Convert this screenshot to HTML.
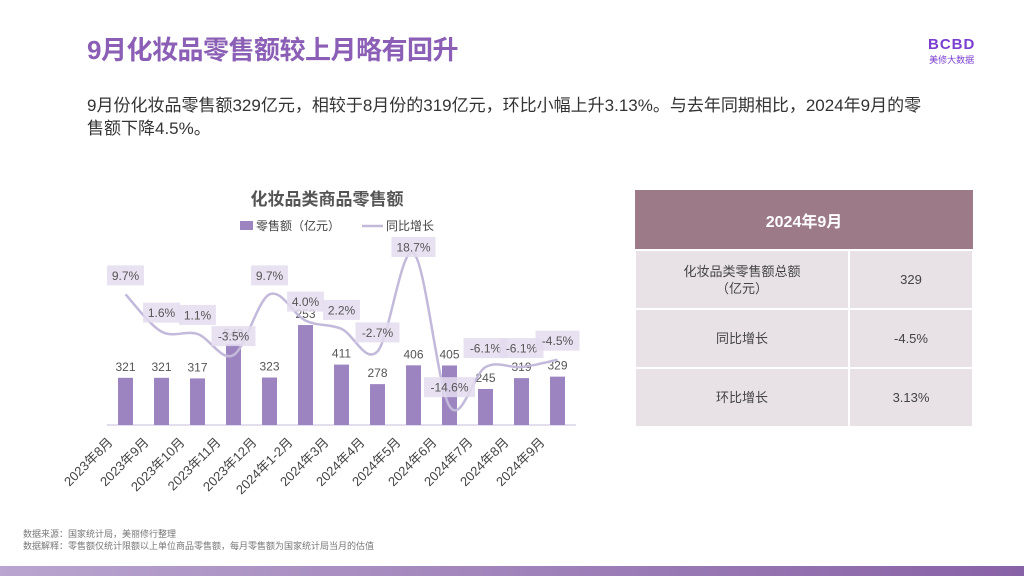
<!DOCTYPE html>
<html><head><meta charset="utf-8">
<style>
body{margin:0;width:1024px;height:576px;background:#fff;position:relative;overflow:hidden;font-family:"Liberation Sans","Noto Sans CJK SC",sans-serif;}
.title{position:absolute;left:87px;top:30px;font-size:26px;font-weight:bold;color:#8b5fb5;letter-spacing:-0.5px}
.logo{position:absolute;left:928px;top:36px;color:#7a3fd0;text-align:center}
.desc{position:absolute;left:87px;top:94px;width:850px;font-size:17px;line-height:23px;color:#333}
.foot{position:absolute;left:23px;top:528px;font-size:9px;line-height:12px;color:#777}
.bar{position:absolute;left:0;top:566px;width:1024px;height:10px;background:linear-gradient(90deg,#b9a5cf,#8862a6)}
table{position:absolute;left:634px;top:190px;width:340px;border-collapse:collapse}
td{background:#e8e2e6;text-align:center;font-size:13px;color:#444;border:2px solid #fff;height:55px;line-height:17px}
th{background:#9c7a87;color:#fff;font-size:16px;height:57px;border-bottom:2px solid #fff}
</style></head><body>
<div class="title">9月化妆品零售额较上月略有回升</div>
<div class="logo"><div style="font-size:15px;font-weight:bold;letter-spacing:1px">BCBD</div><div style="font-size:9px">美修大数据</div></div>
<div class="desc">9月份化妆品零售额329亿元，相较于8月份的319亿元，环比小幅上升3.13%。与去年同期相比，2024年9月的零售额下降4.5%。</div>
<svg id="chart" style="position:absolute;left:0;top:0" width="630" height="530">
<text x="327" y="205" text-anchor="middle" font-size="17" font-weight="bold" fill="#555">化妆品类商品零售额</text>
<g>
<rect x="240" y="221" width="13" height="9" fill="#9c84c1"/>
<text x="256" y="230" font-size="12" fill="#444">零售额（亿元）</text>
<line x1="362" y1="226" x2="383" y2="226" stroke="#c3b9da" stroke-width="2.5"/>
<text x="386" y="230" font-size="12" fill="#444">同比增长</text>
</g>
<line x1="107" y1="425" x2="576" y2="425" stroke="#c7bcdc" stroke-width="1"/>
<g id="g"></g>
</svg>
<table>
<tr><th colspan="2">2024年9月</th></tr>
<tr><td style="width:210px">化妆品类零售额总额<br>（亿元）</td><td>329</td></tr>
<tr><td>同比增长</td><td>-4.5%</td></tr>
<tr><td>环比增长</td><td>3.13%</td></tr>
</table>
<div class="foot">数据来源：国家统计局，美丽修行整理<br>数据解释：零售额仅统计限额以上单位商品零售额，每月零售额为国家统计局当月的估值</div>
<div class="bar"></div>
<script>
const categories=["2023年8月","2023年9月","2023年10月","2023年11月","2023年12月","2024年1-2月","2024年3月","2024年4月","2024年5月","2024年6月","2024年7月","2024年8月","2024年9月"];
const salesValues=[321,321,317,548,323,680,411,278,406,405,245,319,329];
const salesLabels=["321","321","317","548","323","253","411","278","406","405","245","319","329"];
const yoyValues=[9.7,1.6,1.1,-3.5,9.7,4.0,2.2,-2.7,18.7,-14.6,-6.1,-6.1,-4.5];
const NS="http://www.w3.org/2000/svg",g=document.getElementById('g');
const xS=i=>125.5+i*36, base=425, yB=v=>base-v*0.147, yL=v=>339-v*4.6;
function mk(t,a,p){const e=document.createElementNS(NS,t);for(const k in a)e.setAttribute(k,a[k]);(p||g).appendChild(e);return e;}
categories.forEach((c,i)=>{
 const r=mk('rect',{x:xS(i)-7.5,y:yB(salesValues[i]),width:15,height:base-yB(salesValues[i]),fill:'#9c84c1'});
 
 
 const t=mk('text',{x:xS(i),y:yB(salesValues[i])-7,'text-anchor':'middle','font-size':12,fill:'#555'});t.textContent=salesLabels[i];
 
 
 const xl=mk('text',{transform:`translate(${xS(i)-12},${443}) rotate(-45)`,'text-anchor':'end','font-size':13,fill:'#444'});xl.textContent=c;
 
 
});
const pts=yoyValues.map((v,i)=>[xS(i),yL(v)]);
let d=`M${pts[0][0]},${pts[0][1]}`;
for(let i=0;i<pts.length-1;i++){const p0=pts[i-1]||pts[i],p1=pts[i],p2=pts[i+1],p3=pts[i+2]||p2;
 d+=` C${p1[0]+(p2[0]-p0[0])/6},${p1[1]+(p2[1]-p0[1])/6} ${p2[0]-(p3[0]-p1[0])/6},${p2[1]-(p3[1]-p1[1])/6} ${p2[0]},${p2[1]}`;}
const ln=mk('path',{d:d,fill:'none',stroke:'#c3b9da','stroke-width':2.5});


yoyValues.forEach((v,i)=>{
 const cy=Math.max(247,yL(v)-19), s=v.toFixed(1)+'%', w=s.length*7.2+8;
 const b=mk('rect',{x:xS(i)-w/2,y:cy-10,width:w,height:20,fill:'#e4dcee','fill-opacity':0.85});
 
 
 const t=mk('text',{x:xS(i),y:cy+4.5,'text-anchor':'middle','font-size':12,fill:'#555'});t.textContent=s;
 
 
});
</script>
</body></html>
